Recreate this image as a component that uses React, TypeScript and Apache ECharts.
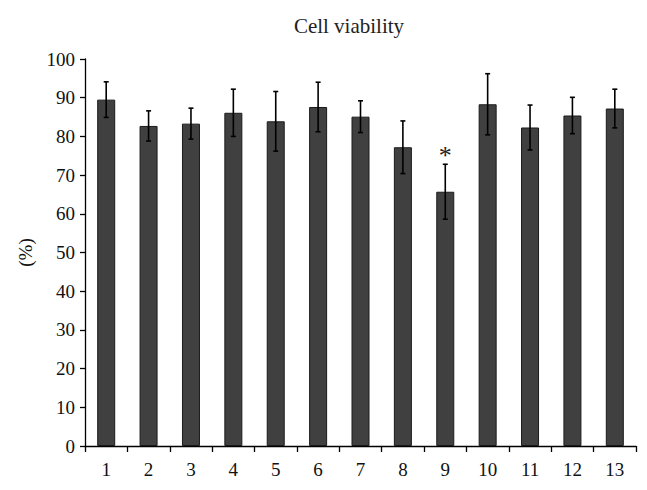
import React, { useEffect, useRef } from "react";
import * as echarts from "echarts";

const categories = ["1", "2", "3", "4", "5", "6", "7", "8", "9", "10", "11", "12", "13"];
const means = [89.5, 82.7, 83.3, 86.1, 83.9, 87.6, 85.1, 77.2, 65.7, 88.3, 82.3, 85.4, 87.2];
const errors = [4.6, 3.9, 4.0, 6.1, 7.7, 6.4, 4.1, 6.8, 7.1, 7.9, 5.8, 4.7, 5.0];
const significant = [false, false, false, false, false, false, false, false, true, false, false, false, false];
const yTicks = [0, 10, 20, 30, 40, 50, 60, 70, 80, 90, 100];

const FONT = "'Liberation Serif', 'DejaVu Serif', serif";

export default function App() {
  const ref = useRef<HTMLDivElement>(null);
  useEffect(() => {
    if (!ref.current) return;
    const chart = echarts.init(ref.current, null, { renderer: "svg" });
    const errData = means.map((m, i) => [i, m - errors[i], m + errors[i], significant[i] ? 1 : 0]);
    chart.setOption({
      animation: false,
      backgroundColor: "#ffffff",
      title: {
        text: "Cell viability",
        left: 344,
        textAlign: "center",
        top: 10,
        textStyle: { fontFamily: FONT, fontSize: 21, fontWeight: "normal", color: "#222" },
      },
      grid: { left: 85, right: 11, top: 59, bottom: 44, containLabel: false },
      xAxis: {
        type: "category",
        data: categories,
        axisLine: { lineStyle: { color: "#000", width: 1.3 } },
        axisTick: { show: true, alignWithLabel: false, length: 6, lineStyle: { color: "#000", width: 1.3 } },
        axisLabel: { fontFamily: FONT, fontSize: 19, color: "#111", margin: 14 },
      },
      yAxis: {
        type: "value",
        min: yTicks[0],
        max: yTicks[yTicks.length - 1],
        interval: 10,
        name: "(%)",
        nameLocation: "middle",
        nameGap: 50,
        nameTextStyle: { fontFamily: FONT, fontSize: 19, color: "#111" },
        splitLine: { show: false },
        axisLine: { show: true, lineStyle: { color: "#000", width: 1.3 } },
        axisTick: { show: true, length: 5, lineStyle: { color: "#000", width: 1.3 } },
        axisLabel: { fontFamily: FONT, fontSize: 19, color: "#111", margin: 10 },
      },
      series: [
        {
          type: "bar",
          data: means,
          barWidth: 18,
          itemStyle: { color: "#404040", borderColor: "#1a1a1a", borderWidth: 1 },
        },
        {
          type: "custom",
          data: errData,
          z: 10,
          renderItem: (params: any, api: any) => {
            const x = api.value(0);
            const lo = api.coord([x, api.value(1)]);
            const hi = api.coord([x, api.value(2)]);
            const cap = 2.5;
            const style = { stroke: "#000", lineWidth: 1.6 };
            const children: any[] = [
              { type: "line", shape: { x1: hi[0], y1: hi[1], x2: lo[0], y2: lo[1] }, style },
              { type: "line", shape: { x1: hi[0] - cap, y1: hi[1], x2: hi[0] + cap, y2: hi[1] }, style },
              { type: "line", shape: { x1: lo[0] - cap, y1: lo[1], x2: lo[0] + cap, y2: lo[1] }, style },
            ];
            if (api.value(3) === 1) {
              children.push({
                type: "text",
                style: {
                  text: "*",
                  x: hi[0],
                  y: hi[1] + 4,
                  align: "center",
                  verticalAlign: "bottom",
                  font: `26px ${FONT}`,
                  fill: "#222",
                },
              });
            }
            return { type: "group", children };
          },
        },
      ],
    });
    return () => chart.dispose();
  }, []);
  return <div ref={ref} style={{ width: 647, height: 490, position: "absolute", left: 0, top: 0 }} />;
}
